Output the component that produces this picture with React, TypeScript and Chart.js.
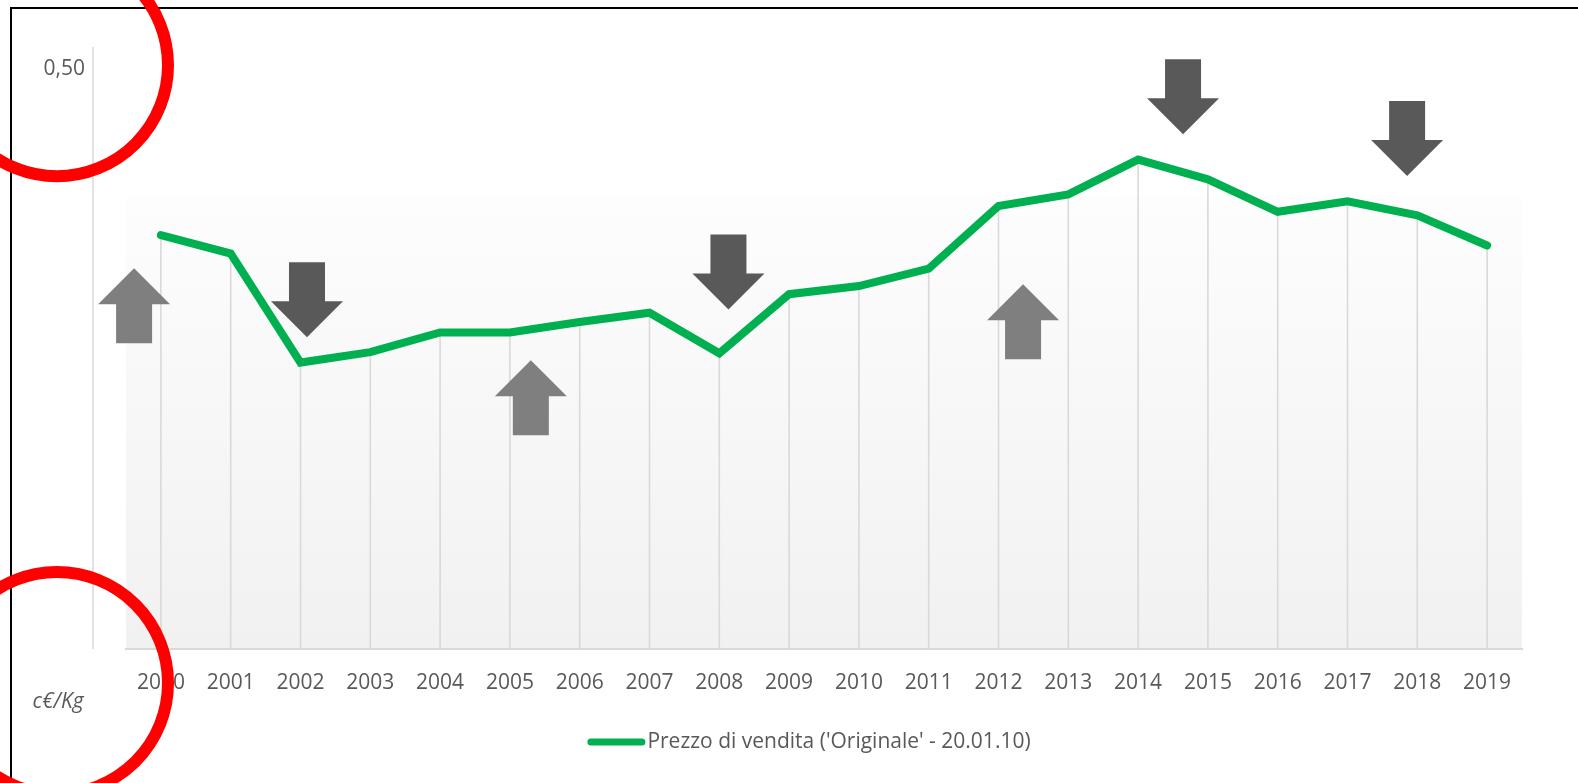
import React, { useEffect, useRef } from "react";
import { Chart, registerables } from "chart.js";

Chart.register(...registerables);

const years = ["2000", "2001", "2002", "2003", "2004", "2005", "2006", "2007", "2008", "2009", "2010", "2011", "2012", "2013", "2014", "2015", "2016", "2017", "2018", "2019"];
const prices = [0.357, 0.341, 0.247, 0.256, 0.273, 0.273, 0.282, 0.29, 0.255, 0.306, 0.313, 0.328, 0.382, 0.392, 0.422, 0.405, 0.377, 0.386, 0.374, 0.348];
const seriesLabel = "Prezzo di vendita ('Originale' - 20.01.10)";
const yTickValues = [0.5];
const unitLabel = "c€/Kg";
// annotation arrows: category position (index units), value of arrow top, direction
const arrowPositions = [-0.384, 2.093, 5.3, 8.131, 12.352, 14.644, 17.854];
const arrowTopValues = [0.3284, 0.3336, 0.2491, 0.3575, 0.3146, 0.5086, 0.4726];
const arrowDirections = ["up", "down", "up", "down", "up", "down", "down"];

const FONT = "'Open Sans', 'Noto Sans', sans-serif";
const TEXT = "#595959";
const GREEN = "#00b050";

const decor = {
  id: "decor",
  beforeDraw(chart: any) {
    const { ctx, chartArea: ca, scales } = chart;
    const y = scales.y;
    ctx.save();
    ctx.fillStyle = "#ffffff";
    ctx.fillRect(0, 0, chart.width, chart.height);
    // plot background gradient
    const gTop = y.getPixelForValue(0.39);
    const g = ctx.createLinearGradient(0, gTop, 0, ca.bottom);
    g.addColorStop(0, "#fdfdfd");
    g.addColorStop(1, "#f1f1f1");
    ctx.fillStyle = g;
    ctx.fillRect(ca.left, gTop, ca.right - ca.left, ca.bottom - gTop);
    // value axis line (detached)
    ctx.strokeStyle = "#d9d9d9";
    ctx.lineWidth = 1.5;
    ctx.beginPath();
    ctx.moveTo(ca.left - 33, ca.top + 1);
    ctx.lineTo(ca.left - 33, ca.bottom);
    ctx.stroke();
    // outer frame
    ctx.strokeStyle = "#000000";
    ctx.lineWidth = 2;
    ctx.beginPath();
    ctx.moveTo(11, chart.height);
    ctx.lineTo(11, 8);
    ctx.lineTo(chart.width, 8);
    ctx.stroke();
    ctx.restore();
  },
  beforeDatasetsDraw(chart: any) {
    const { ctx, chartArea: ca } = chart;
    const meta = chart.getDatasetMeta(0);
    ctx.save();
    ctx.strokeStyle = "#d9d9d9";
    ctx.lineWidth = 1.6;
    meta.data.forEach((p: any) => {
      ctx.beginPath();
      ctx.moveTo(p.x, p.y);
      ctx.lineTo(p.x, ca.bottom);
      ctx.stroke();
    });
    ctx.restore();
  },
  afterDatasetsDraw(chart: any) {
    const { ctx, scales } = chart;
    const x = scales.x;
    const y = scales.y;
    const W = 36, H = 75, S = 18, HEAD = 36;
    ctx.save();
    arrowPositions.forEach((pos, i) => {
      const cx = x.getPixelForValue(pos);
      const top = y.getPixelForValue(arrowTopValues[i]);
      ctx.beginPath();
      if (arrowDirections[i] === "up") {
        ctx.fillStyle = "#7f7f7f";
        ctx.moveTo(cx, top);
        ctx.lineTo(cx + W, top + HEAD);
        ctx.lineTo(cx + S, top + HEAD);
        ctx.lineTo(cx + S, top + H);
        ctx.lineTo(cx - S, top + H);
        ctx.lineTo(cx - S, top + HEAD);
        ctx.lineTo(cx - W, top + HEAD);
      } else {
        ctx.fillStyle = "#595959";
        ctx.moveTo(cx - S, top);
        ctx.lineTo(cx + S, top);
        ctx.lineTo(cx + S, top + H - HEAD);
        ctx.lineTo(cx + W, top + H - HEAD);
        ctx.lineTo(cx, top + H);
        ctx.lineTo(cx - W, top + H - HEAD);
        ctx.lineTo(cx - S, top + H - HEAD);
      }
      ctx.closePath();
      ctx.fill();
    });
    ctx.restore();
  },
  afterDraw(chart: any) {
    const { ctx, chartArea: ca, scales } = chart;
    const y = scales.y;
    ctx.save();
    // unit label
    ctx.fillStyle = TEXT;
    ctx.font = `italic 21px ${FONT}`;
    ctx.textAlign = "center";
    ctx.textBaseline = "alphabetic";
    ctx.fillText(unitLabel, ca.left - 68, ca.bottom + 59);
    // legend
    ctx.font = `21px ${FONT}`;
    const tw = ctx.measureText(seriesLabel).width;
    const total = 58 + 2 + tw;
    const cx = (ca.left + ca.right) / 2 - 15;
    const lx = cx - total / 2;
    const ly = ca.bottom + 93;
    ctx.strokeStyle = GREEN;
    ctx.lineWidth = 7;
    ctx.lineCap = "round";
    ctx.beginPath();
    ctx.moveTo(lx + 3.5, ly);
    ctx.lineTo(lx + 58 - 3.5, ly);
    ctx.stroke();
    ctx.textAlign = "left";
    ctx.textBaseline = "middle";
    ctx.fillText(seriesLabel, lx + 60, ly);
    // red highlight circles
    ctx.strokeStyle = "#ff0000";
    ctx.lineWidth = 12;
    const tickY = y.getPixelForValue(yTickValues[0]);
    [[ca.left - 69, tickY - 4], [ca.left - 69, ca.bottom + 34]].forEach(([ccx, ccy]) => {
      ctx.beginPath();
      ctx.arc(ccx, ccy, 111, 0, Math.PI * 2);
      ctx.stroke();
    });
    ctx.restore();
  },
};

export default function App() {
  const ref = useRef<HTMLCanvasElement>(null);
  useEffect(() => {
    if (!ref.current) return;
    const chart = new Chart(ref.current, {
      type: "line",
      data: {
        labels: years,
        datasets: [
          {
            label: seriesLabel,
            data: prices,
            borderColor: GREEN,
            backgroundColor: GREEN,
            borderWidth: 8,
            borderCapStyle: "round",
            borderJoinStyle: "miter",
            pointRadius: 0,
            tension: 0,
            fill: false,
          },
        ],
      },
      options: {
        animation: false,
        responsive: false,
        devicePixelRatio: 1,
        layout: { padding: { top: 46, right: 56, left: 0, bottom: 0 } },
        plugins: { legend: { display: false }, tooltip: { enabled: false } },
        scales: {
          x: {
            offset: true,
            grid: { display: false },
            border: { display: true, color: "#d9d9d9", width: 2 },
            ticks: { color: TEXT, font: { family: FONT, size: 21 }, padding: 13, maxRotation: 0, autoSkip: false },
            afterFit: (s: any) => {
              s.height = 134;
            },
          },
          y: {
            min: 0,
            max: 0.52,
            grid: { display: false },
            border: { display: false },
            afterBuildTicks: (s: any) => {
              s.ticks = yTickValues.map((v) => ({ value: v }));
            },
            ticks: {
              color: TEXT,
              font: { family: FONT, size: 21 },
              padding: 33,
              callback: (v: any) => Number(v).toFixed(2).replace(".", ","),
            },
            afterFit: (s: any) => {
              s.width = 126;
              s.paddingTop = 0;
              s.paddingBottom = 0;
            },
          },
        },
      },
      plugins: [decor],
    });
    return () => chart.destroy();
  }, []);
  return (
    <div style={{ position: "fixed", left: 0, top: 0, width: 1578, height: 783, background: "#fff" }}>
      <canvas ref={ref} width={1578} height={783} style={{ display: "block" }} />
    </div>
  );
}
